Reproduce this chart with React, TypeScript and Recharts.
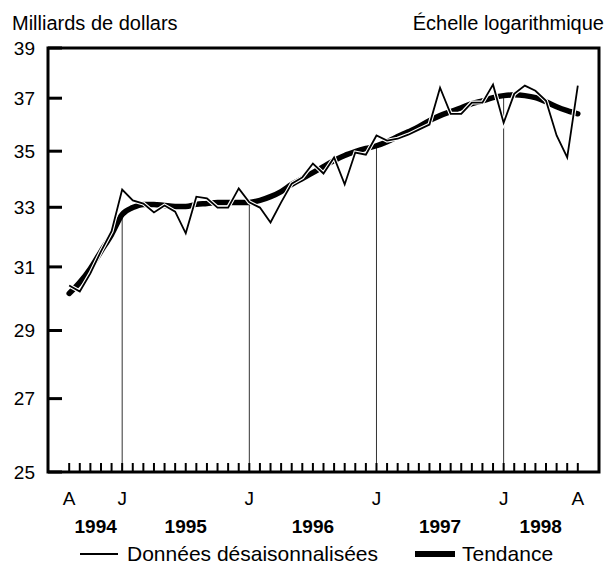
import React from 'react';
import { LineChart, Line, XAxis, YAxis, ReferenceArea, ReferenceLine, Legend } from 'recharts';

const FONT = '"Liberation Sans", Arial, Helvetica, sans-serif';

// Monthly values, August 1994 to August 1998 (49 months), billions of dollars
const rawValues = [
  30.40, 30.21, 30.79, 31.51, 32.18, 33.62, 33.24, 33.13, 32.82, 33.06,
  32.85, 32.11, 33.37, 33.31, 32.99, 32.99, 33.66, 33.17, 32.99, 32.48,
  33.17, 33.83, 34.05, 34.55, 34.19, 34.77, 33.80, 34.95, 34.87, 35.58,
  35.39, 35.46, 35.61, 35.80, 35.99, 37.41, 36.40, 36.40, 36.83, 36.83,
  37.53, 36.06, 37.17, 37.49, 37.29, 36.90, 35.58, 34.77, 37.49,
];

const trendValues = [
  30.15, 30.50, 30.95, 31.51, 32.07, 32.75, 32.99, 33.10, 33.10, 33.06,
  33.03, 33.03, 33.10, 33.13, 33.17, 33.17, 33.17, 33.17, 33.24, 33.37,
  33.55, 33.80, 34.01, 34.22, 34.44, 34.66, 34.84, 34.98, 35.10, 35.20,
  35.35, 35.54, 35.72, 35.91, 36.14, 36.33, 36.48, 36.63, 36.79, 36.90,
  37.02, 37.10, 37.13, 37.10, 37.02, 36.86, 36.67, 36.52, 36.40,
];

const monthTickLabels = [
  'A', '', '', '', '', 'J', '', '', '', '', '', '', '', '', '', '', '', 'J',
  '', '', '', '', '', '', '', '', '', '', '', 'J', '', '', '', '', '', '',
  '', '', '', '', '', 'J', '', '', '', '', '', '', 'A',
];

const januaryIndexes = [5, 17, 29, 41];
const yearLabels = ['1994', '1995', '1996', '1997', '1998'];
const yearCenters = [2.5, 11, 23, 35, 44.5];
const yTicks = [25, 27, 29, 31, 33, 35, 37, 39];
const xDomain: [number, number] = [-2, 50];
const yDomain: [number, number] = [25, 39];

const SERIES_RAW = 'Données désaisonnalisées';
const SERIES_TREND = 'Tendance';

const data = rawValues.map((v, i) => ({ m: i, raw: v, trend: trendValues[i] }));
const monthTicks = data.map((d) => d.m);

const MonthTick = (props: any) => {
  const { x, y, payload } = props;
  const label = monthTickLabels[payload.value] || '';
  return (
    <g>
      <line x1={x} y1={y} x2={x} y2={y - 9} stroke="#000" strokeWidth={2} />
      {label ? (
        <text x={x} y={y + 33} textAnchor="middle" fontSize={19} fontFamily={FONT} fill="#000">
          {label}
        </text>
      ) : null}
    </g>
  );
};

const YearTick = (props: any) => {
  const { x, y, payload } = props;
  const idx = yearCenters.indexOf(payload.value);
  return (
    <text x={x} y={y + 31} textAnchor="middle" fontSize={19} fontWeight="bold" fontFamily={FONT} fill="#000">
      {yearLabels[idx]}
    </text>
  );
};

const ValueTick = (props: any) => {
  const { x, y, payload } = props;
  return (
    <g>
      <line x1={x + 13} y1={y} x2={x + 27} y2={y} stroke="#000" strokeWidth={3} />
      <text x={x} y={y} dy="0.36em" textAnchor="end" fontSize={19} fontFamily={FONT} fill="#000">
        {payload.value}
      </text>
    </g>
  );
};

const LegendContent = () => (
  <div style={{ position: 'relative', width: 606, height: 26, fontFamily: FONT, fontSize: 21, color: '#000' }}>
    <div style={{ position: 'absolute', left: 80, top: 12, width: 38, height: 2, background: '#000' }} />
    <span style={{ position: 'absolute', left: 127, top: 0, lineHeight: '26px', whiteSpace: 'nowrap' }}>{SERIES_RAW}</span>
    <div style={{ position: 'absolute', left: 415, top: 10, width: 40, height: 6, background: '#000' }} />
    <span style={{ position: 'absolute', left: 462, top: 0, lineHeight: '26px', whiteSpace: 'nowrap' }}>{SERIES_TREND}</span>
  </div>
);

export default function App() {
  return (
    <div style={{ position: 'absolute', left: 0, top: 0, width: 606, height: 565, background: '#fff', fontFamily: FONT }}>
      <div style={{ position: 'absolute', left: 12, top: 11, fontSize: 20, lineHeight: '24px', color: '#000', whiteSpace: 'nowrap' }}>
        Milliards de dollars
      </div>
      <div style={{ position: 'absolute', right: 2, top: 11, fontSize: 20, lineHeight: '24px', color: '#000', whiteSpace: 'nowrap' }}>
        Échelle logarithmique
      </div>
      <LineChart width={606} height={565} data={data} margin={{ top: 48, right: 7, bottom: 33, left: 0 }}>
        <XAxis
          dataKey="m"
          type="number"
          domain={xDomain}
          ticks={monthTicks}
          interval={0}
          axisLine={false}
          tickLine={false}
          tickSize={0}
          tickMargin={0}
          height={30}
          tick={<MonthTick />}
          allowDataOverflow
        />
        <XAxis
          xAxisId="years"
          dataKey="m"
          type="number"
          domain={xDomain}
          ticks={yearCenters}
          interval={0}
          axisLine={false}
          tickLine={false}
          tickSize={0}
          tickMargin={0}
          height={30}
          tick={<YearTick />}
          allowDataOverflow
        />
        <YAxis
          type="number"
          scale="log"
          domain={yDomain}
          ticks={yTicks}
          interval={0}
          axisLine={false}
          tickLine={false}
          tickSize={0}
          tickMargin={13}
          width={48}
          tick={<ValueTick />}
          allowDataOverflow
        />
        {januaryIndexes.map((i) => (
          <ReferenceLine
            key={i}
            segment={[{ x: i, y: yDomain[0] }, { x: i, y: trendValues[i] }]}
            stroke="#333"
            strokeWidth={1}
          />
        ))}
        <Line
          dataKey="trend"
          name={SERIES_TREND}
          stroke="#000"
          strokeWidth={5.5}
          strokeLinecap="round"
          strokeLinejoin="round"
          type="monotone"
          dot={false}
          activeDot={false}
          isAnimationActive={false}
        />
        <Line
          dataKey="raw"
          name="halo"
          stroke="#fff"
          strokeWidth={4}
          type="linear"
          dot={false}
          activeDot={false}
          legendType="none"
          isAnimationActive={false}
        />
        <Line
          dataKey="raw"
          name={SERIES_RAW}
          stroke="#000"
          strokeWidth={1.8}
          type="linear"
          dot={false}
          activeDot={false}
          isAnimationActive={false}
        />
        <ReferenceArea
          x1={xDomain[0]}
          x2={xDomain[1]}
          y1={yDomain[0]}
          y2={yDomain[1]}
          fill="none"
          fillOpacity={0}
          stroke="#000"
          strokeWidth={3}
          ifOverflow="visible"
        />
        <Legend
          verticalAlign="middle"
          align="center"
          layout="horizontal"
          content={<LegendContent />}
          wrapperStyle={{ top: 541, left: 0, width: 606, height: 26 }}
        />
      </LineChart>
    </div>
  );
}
